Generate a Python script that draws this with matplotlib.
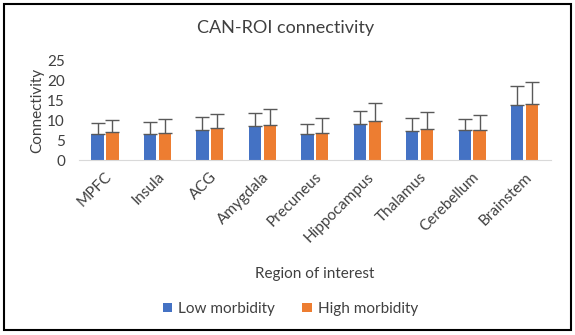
import matplotlib
matplotlib.use('Agg')
import matplotlib.pyplot as plt
from matplotlib.patches import Rectangle
import numpy as np

# region names and connectivity (mean, plus-error tops)
regions = ['MPFC', 'Insula', 'ACG', 'Amygdala', 'Precuneus',
           'Hippocampus', 'Thalamus', 'Cerebellum', 'Brainstem']
low_mean = [6.7, 6.6, 7.7, 8.6, 6.5, 9.2, 7.4, 7.5, 13.9]
low_err = [2.6, 3.1, 3.1, 3.2, 2.5, 3.3, 3.1, 2.8, 4.7]
high_mean = [7.0, 6.9, 8.0, 8.8, 6.9, 9.9, 7.8, 7.7, 14.1]
high_err = [3.0, 3.4, 3.7, 4.1, 3.8, 4.4, 4.3, 3.8, 5.5]

plt.rcParams['font.family'] = ['Lato', 'DejaVu Sans']
txt = '#404040'

fig = plt.figure(figsize=(5.75, 3.35), dpi=100)
ax = fig.add_axes([0.137, 0.522, 0.821, 0.296])

x = np.arange(len(regions))
w = 0.235
gap = 0.048
err_kw = dict(ecolor='#595959', elinewidth=1, capsize=5, capthick=1)
ax.bar(x - w / 2 - gap / 2, low_mean, w, color='#4472C4', label='Low morbidity',
       yerr=[np.zeros(len(low_err)), low_err], error_kw=err_kw)
ax.bar(x + w / 2 + gap / 2, high_mean, w, color='#ED7D31', label='High morbidity',
       yerr=[np.zeros(len(high_err)), high_err], error_kw=err_kw)

ax.set_xlim(-0.5, len(regions) - 0.5)
ax.set_ylim(0, 25)
ax.set_yticks([0, 5, 10, 15, 20, 25])
ax.set_xticks(x)
ax.set_xticklabels(regions, rotation=45, ha='right', va='top', rotation_mode='anchor')
ax.tick_params(axis='both', length=0, labelsize=11, colors=txt, pad=7)
ax.tick_params(axis='y', pad=10)
for s in ['top', 'right', 'left']:
    ax.spines[s].set_visible(False)
ax.spines['bottom'].set_color('#D9D9D9')

ax.set_ylabel('Connectivity', fontsize=11, color=txt, labelpad=2)
ax.set_xlabel('Region of interest', fontsize=11, color=txt, labelpad=16)
fig.text(0.497, 0.915, 'CAN-ROI connectivity', ha='center', va='center',
         fontsize=13, color=txt)

fig.legend(loc='center', bbox_to_anchor=(0.505, 0.078), ncol=2, frameon=False,
           fontsize=11, handlelength=0.6, handleheight=0.6, columnspacing=1.8,
           handletextpad=0.4, labelcolor=txt)

fig.add_artist(Rectangle((4 / 575, 5 / 335), 567 / 575, 326 / 335,
                         transform=fig.transFigure, fill=False,
                         edgecolor='black', linewidth=1.5))

fig.savefig('out.png', dpi=100)
